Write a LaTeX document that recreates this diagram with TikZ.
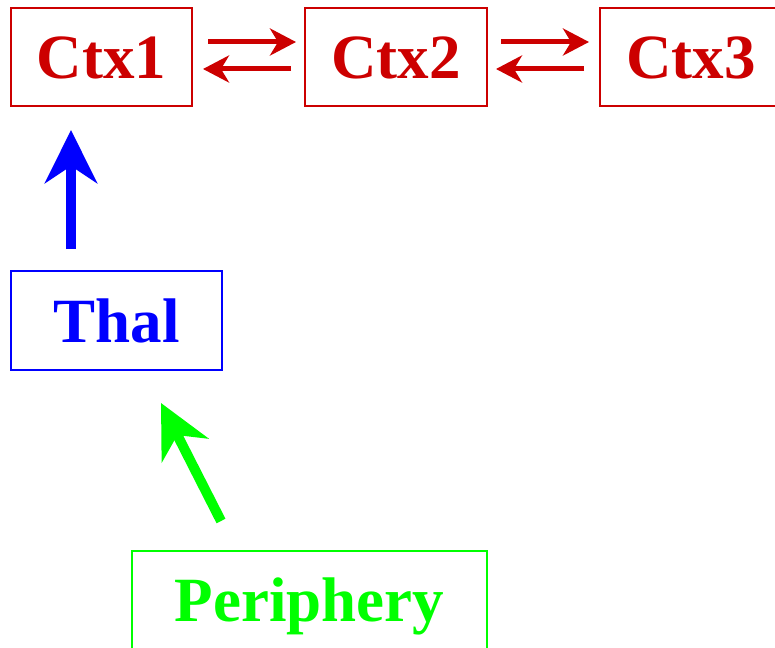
\documentclass[tikz,border=0pt]{standalone}
\usepackage{fontspec}
\setmainfont{Liberation Serif}
\usetikzlibrary{arrows.meta,calc}
\definecolor{ctxred}{RGB}{204,0,0}
\definecolor{thalblue}{RGB}{0,0,255}
\definecolor{perigreen}{RGB}{0,255,0}
\tikzset{
  box/.style={draw, line width=2pt, inner sep=0pt, minimum height=98pt,
    text height=43pt, text depth=0pt,
    font=\fontsize{63}{70}\selectfont\bfseries},
  redarrow/.style={draw=ctxred, line width=5pt,
    -{Stealth[length=26pt,width=27pt,inset=8pt]}},
  bigarrow/.style={line width=10pt,
    -{Stealth[length=53pt,width=52pt,inset=17pt]}},
}
\begin{document}
\begin{tikzpicture}[x=1pt,y=1pt]
\useasboundingbox (0,0) rectangle (775,-647);
\clip (0,0) rectangle (775,-647);
\node[box, draw=ctxred, text=ctxred, minimum width=181pt] (ctx1) at (101.5,-57) {Ctx1};
\node[box, draw=ctxred, text=ctxred, minimum width=182pt] (ctx2) at (396,-57) {Ctx2};
\node[box, draw=ctxred, text=ctxred, minimum width=182pt] (ctx3) at (691,-57) {Ctx3};
\node[box, draw=thalblue, text=thalblue, minimum width=211pt, minimum height=99pt] (thal) at (116.5,-320.5) {Thal};
\node[box, draw=perigreen, text=perigreen, minimum width=355pt] (peri) at (309.5,-600) {Periphery};
% Ctx1 <-> Ctx2
\draw[redarrow, shorten <=15pt, shorten >=8pt] ([yshift=15pt]ctx1.east) -- ([yshift=15pt]ctx2.west);
\draw[redarrow, shorten <=13pt, shorten >=10pt] ([yshift=-12pt]ctx2.west) -- ([yshift=-12pt]ctx1.east);
% Ctx2 <-> Ctx3
\draw[redarrow, shorten <=13pt, shorten >=10pt] ([yshift=15pt]ctx2.east) -- ([yshift=15pt]ctx3.west);
\draw[redarrow, shorten <=15pt, shorten >=8pt] ([yshift=-12pt]ctx3.west) -- ([yshift=-12pt]ctx2.east);
% Thal -> Ctx1
\draw[bigarrow, thalblue, shorten <=21pt, shorten >=23pt] ([xshift=-45.5pt]thal.north) -- ([xshift=-30.5pt]ctx1.south);
% Periphery -> Thal
\draw[bigarrow, perigreen] ($(peri.north west)+(90,29)$) -- ($(thal.south west)+(151,-32)$);
\end{tikzpicture}
\end{document}
